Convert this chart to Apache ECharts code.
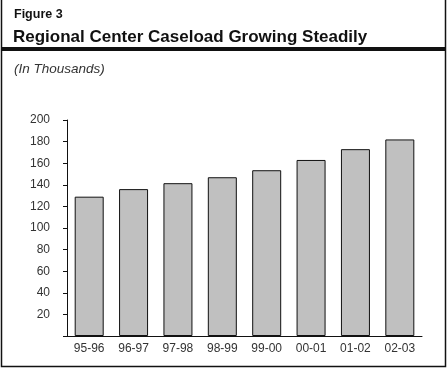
<!DOCTYPE html>
<html>
<head>
<meta charset="utf-8">
<script src="https://cdn.jsdelivr.net/npm/echarts@6/dist/echarts.min.js"></script>
<style>
html,body{margin:0;padding:0;background:#fff;}
#chart{width:448px;height:369px;}
</style>
</head>
<body>
<div id="chart"></div>
<script>
const categories = ['95-96','96-97','97-98','98-99','99-00','00-01','01-02','02-03'];
const caseload = [129, 136, 141.5, 147, 153.5, 163, 173, 182];
const yTicks = [0, 20, 40, 60, 80, 100, 120, 140, 160, 180, 200];

const chart = echarts.init(document.getElementById('chart'), null, {renderer:'canvas'});
const font = '"Liberation Sans", Arial, sans-serif';
chart.setOption({
  animation: false,
  backgroundColor: '#fff',
  title: [
    {text: 'Figure 3', left: 9, top: 3, textStyle: {fontFamily: font, fontSize: 12.5, fontWeight: 'bold', color: '#111'}},
    {text: 'Regional Center Caseload Growing Steadily', left: 8, top: 24, textStyle: {fontFamily: font, fontSize: 17, fontWeight: 'bold', color: '#111'}},
    {text: '(In Thousands)', left: 9, top: 57, textStyle: {fontFamily: font, fontSize: 13.5, fontStyle: 'italic', fontWeight: 'normal', color: '#333'}}
  ],
  graphic: [
    {type: 'rect', shape: {x: 1.5, y: -2, width: 444, height: 368.5}, style: {fill: 'none', stroke: '#111', lineWidth: 1.5}, silent: true},
    {type: 'rect', shape: {x: 1, y: 47, width: 445, height: 4}, style: {fill: '#111'}, silent: true}
  ],
  grid: {left: 67, right: 26, top: 120, bottom: 33},
  xAxis: {
    type: 'category',
    data: categories,
    axisLine: {lineStyle: {color: '#111', width: 1}},
    axisTick: {show: false},
    axisLabel: {fontFamily: font, fontSize: 12, color: '#333', margin: 7}
  },
  yAxis: {
    type: 'value',
    min: yTicks[0], max: yTicks[yTicks.length-1], interval: 20,
    axisLine: {show: true, lineStyle: {color: '#111', width: 1}},
    axisTick: {show: true, length: 4, lineStyle: {color: '#111'}},
    splitLine: {show: false},
    axisLabel: {fontFamily: font, fontSize: 12, color: '#333', margin: 17,
      formatter: v => v === 0 ? '' : String(v)}
  },
  series: [{
    type: 'bar',
    data: caseload,
    barWidth: 29,
    itemStyle: {color: '#c0c0c0', borderColor: '#111', borderWidth: 1}
  }]
});
</script>
</body>
</html>
